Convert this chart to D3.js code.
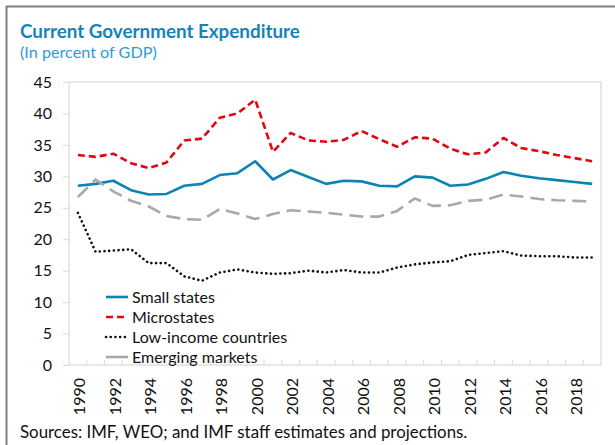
<!DOCTYPE html>
<html><head><meta charset="utf-8">
<script src="https://cdn.jsdelivr.net/npm/d3@7"></script>
<style>
html,body{margin:0;padding:0;background:#fff;}
svg{display:block;font-family:Lato,"Open Sans",sans-serif;}
</style></head>
<body>
<svg id="chart" width="615" height="445"></svg>
<script>
const years = d3.range(1990, 2020);
const smallStates = [28.5,28.8,29.3,27.8,27.1,27.2,28.5,28.8,30.2,30.5,32.4,29.5,31.0,29.9,28.8,29.3,29.2,28.5,28.4,30.0,29.8,28.5,28.7,29.6,30.7,30.1,29.7,29.4,29.1,28.8];
const microstates = [33.4,33.1,33.6,32.1,31.3,32.2,35.7,36.0,39.3,40.0,42.2,33.9,36.9,35.7,35.5,35.8,37.2,35.9,34.7,36.2,36.0,34.4,33.5,33.8,36.1,34.5,34.0,33.4,32.9,32.4];
const lowIncome = [24.2,18.0,18.2,18.4,16.2,16.2,14.1,13.4,14.7,15.2,14.7,14.5,14.6,15.0,14.7,15.1,14.7,14.7,15.5,16.0,16.3,16.5,17.5,17.8,18.1,17.4,17.3,17.3,17.1,17.1];
const emerging = [26.7,29.5,27.6,26.1,25.2,23.7,23.2,23.1,24.8,24.1,23.2,24.0,24.6,24.4,24.2,23.9,23.6,23.6,24.5,26.5,25.3,25.4,26.1,26.3,27.1,26.8,26.4,26.2,26.1,26.0];
const yTicks = [0,5,10,15,20,25,30,35,40,45];
const seriesNames = ["Small states","Microstates","Low-income countries","Emerging markets"];
const titleText = "Current Government Expenditure";
const subtitleText = "(In percent of GDP)";
const sourceText = "Sources: IMF, WEO; and IMF staff estimates and projections.";

const series = [
  {name: seriesNames[0], values: smallStates, color: "#0b84b5", dash: null, cap: "butt"},
  {name: seriesNames[1], values: microstates, color: "#e3050f", dash: "7,4", cap: "butt"},
  {name: seriesNames[2], values: lowIncome, color: "#111", dash: "0.1,4.6", cap: "round"},
  {name: seriesNames[3], values: emerging, color: "#a9a9a9", dash: "14,7", cap: "butt"}
];

const svg = d3.select("#chart");
const L = 69, R = 601, T = 82, B = 365;

function fit(sel, target){
  const n = sel.node();
  const fs = parseFloat(sel.attr("font-size"));
  const w = n.getComputedTextLength();
  if (w > 0) sel.attr("font-size", (fs * target / w).toFixed(2));
  return sel;
}

// outer frame (top + left)
svg.append("line").attr("x1",6).attr("x2",615).attr("y1",6.5).attr("y2",6.5).attr("stroke","#808080").attr("stroke-width",2);
svg.append("line").attr("x1",6.5).attr("x2",6.5).attr("y1",6).attr("y2",445).attr("stroke","#808080").attr("stroke-width",2);

// titles
fit(svg.append("text").attr("x",20).attr("y",38).attr("font-size",20).attr("font-weight","bold").attr("fill","#1583b9").text(titleText), 280);
fit(svg.append("text").attr("x",20).attr("y",58).attr("font-size",14).attr("fill","#2f9bd6").text(subtitleText), 137);
fit(svg.append("text").attr("x",20).attr("y",438).attr("font-size",15).attr("fill","#111").text(sourceText), 448);

const x = d3.scaleBand().domain(years).range([L, R]);
const y = d3.scaleLinear().domain([0, 45]).range([B, T]);
const cx = d => x(d) + x.bandwidth()/2;

// plot frame
svg.append("rect").attr("x",L).attr("y",T).attr("width",R-L).attr("height",B-T)
  .attr("fill","none").attr("stroke","#d9d9d9").attr("stroke-width",1.2);

// y axis
const yAxis = svg.append("g").attr("transform",`translate(${L},0)`)
  .call(d3.axisLeft(y).tickValues(yTicks).tickSize(6).tickPadding(11));
yAxis.select(".domain").remove();
yAxis.selectAll(".tick line").attr("stroke","#d9d9d9");
yAxis.selectAll(".tick text").attr("font-size",16).attr("font-family","Lato").attr("fill","#111");

// x axis ticks at category boundaries (inside, upward)
svg.append("g").selectAll("line").data(years.slice(1)).join("line")
  .attr("x1",d=>x(d)).attr("x2",d=>x(d)).attr("y1",B).attr("y2",B-5)
  .attr("stroke","#d9d9d9");

const xAxis = svg.append("g").attr("transform",`translate(0,${B})`)
  .call(d3.axisBottom(x).tickSize(0).tickFormat(d => d % 2 === 0 ? String(d) : ""));
xAxis.select(".domain").remove();
xAxis.selectAll(".tick text")
  .attr("font-size",16).attr("font-family","Lato").attr("fill","#111")
  .attr("text-anchor","end")
  .attr("transform","translate(2,13) rotate(-90)")
  .attr("x",0).attr("y",0).attr("dy","0.35em");

// lines
const line = d3.line().x((d,i)=>cx(years[i])).y(d=>y(d));
svg.append("g").selectAll("path").data(series).join("path")
  .attr("d", d => line(d.values))
  .attr("fill","none").attr("stroke",d=>d.color).attr("stroke-width",2.6)
  .attr("stroke-dasharray",d=>d.dash).attr("stroke-linecap",d=>d.cap)
  .attr("stroke-linejoin","round");

// legend
const lg = svg.append("g");
series.forEach((s,i)=>{
  const yy = 297 + i*20;
  lg.append("line").attr("x1",106).attr("x2",128).attr("y1",yy).attr("y2",yy)
    .attr("stroke",s.color).attr("stroke-width",2.6)
    .attr("stroke-dasharray", s.dash === "14,7" ? null : s.dash).attr("stroke-linecap",s.cap);
  lg.append("text").attr("x",132).attr("y",yy).attr("dy","0.35em").attr("font-size",16).attr("fill","#111").text(s.name);
});
</script>
</body></html>
